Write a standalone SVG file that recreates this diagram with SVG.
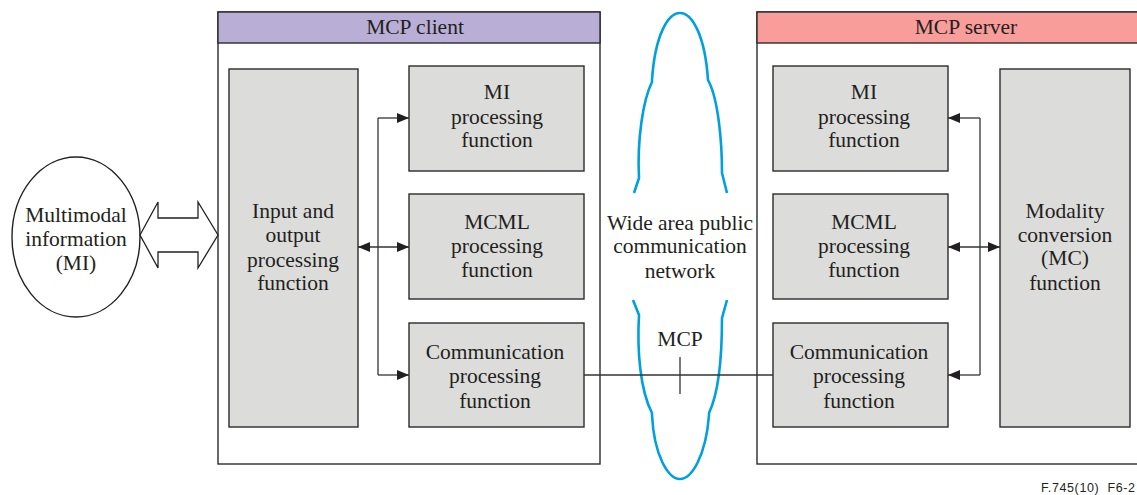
<svg xmlns="http://www.w3.org/2000/svg" width="1137" height="495" viewBox="0 0 1137 495">
<style>
.t{font-family:"Liberation Serif","Times New Roman",serif;font-size:21.5px;fill:#231f20;text-anchor:middle}
.box{fill:#dcdcdb;stroke:#2b2b2b;stroke-width:1.4}
.frame{fill:#fff;stroke:#2b2b2b;stroke-width:1.4}
.ln{fill:none;stroke:#333;stroke-width:1.3}
.cloud{fill:none;stroke:#00a0dc;stroke-width:2.6;stroke-linejoin:round}
</style>
<defs>
<marker id="ah" viewBox="0 0 12 10" refX="12" refY="5" markerWidth="12" markerHeight="10" markerUnits="userSpaceOnUse" orient="auto-start-reverse">
<path d="M0,0 L12,5 L0,10 z" fill="#231f20"/>
</marker>
</defs>
<g id="client">
<rect class="frame" x="218" y="12" width="382" height="452"/>
<rect x="218" y="12" width="382" height="31" fill="#b9afd6" stroke="#2b2b2b" stroke-width="1.4"/>
<text class="t" x="415" y="34">MCP client</text>
</g>
<g id="server">
<rect class="frame" x="757" y="12" width="400" height="452"/>
<rect x="757" y="12" width="400" height="31" fill="#f99d9b" stroke="#2b2b2b" stroke-width="1.4"/>
<text class="t" x="966" y="34">MCP server</text>
</g>
<g id="mi">
<ellipse cx="76" cy="237" rx="64" ry="80" fill="#fff" stroke="#231f20" stroke-width="1.4"/>
<text class="t" x="76" y="222">Multimodal</text>
<text class="t" x="76" y="246">information</text>
<text class="t" x="76" y="270">(MI)</text>
</g>
<g id="io">
<rect class="box" x="229" y="69" width="129" height="358"/>
<text class="t" x="293" y="218">Input and</text>
<text class="t" x="293" y="242">output</text>
<text class="t" x="293" y="267">processing</text>
<text class="t" x="293" y="290">function</text>
</g>
<g id="c-mi">
<rect class="box" x="409" y="66" width="175" height="105"/>
<text class="t" x="497" y="99">MI</text>
<text class="t" x="497" y="124">processing</text>
<text class="t" x="497" y="147">function</text>
</g>
<g id="c-mcml">
<rect class="box" x="409" y="194" width="175" height="105"/>
<text class="t" x="497" y="229">MCML</text>
<text class="t" x="497" y="253">processing</text>
<text class="t" x="497" y="277">function</text>
</g>
<g id="c-comm">
<rect class="box" x="409" y="323" width="175" height="104"/>
<text class="t" x="495" y="359">Communication</text>
<text class="t" x="495" y="383">processing</text>
<text class="t" x="495" y="408">function</text>
</g>
<g id="cloud">
<path class="cloud" d="M634,193 L639,178 C637,140 643,100 652,82 L652,80 C655,35 668,13 680,13 C692,13 705,35 708,80 L709,82 C718,100 722,140 722,173 L727,193"/>
<path class="cloud" d="M633,300 L639,315 C637,350 640,390 652,413 L652,415 C654,455 668,479 680,479 C692,479 706,455 709,415 L709,413 C720,390 722,350 722,318 L727,300"/>
<text class="t" x="680" y="230">Wide area public</text>
<text class="t" x="680" y="253">communication</text>
<text class="t" x="680" y="278">network</text>
<text class="t" x="680" y="346">MCP</text>
</g>
<g id="s-mi">
<rect class="box" x="773" y="66" width="175" height="105"/>
<text class="t" x="864" y="99">MI</text>
<text class="t" x="864" y="124">processing</text>
<text class="t" x="864" y="147">function</text>
</g>
<g id="s-mcml">
<rect class="box" x="773" y="194" width="175" height="105"/>
<text class="t" x="864" y="229">MCML</text>
<text class="t" x="864" y="253">processing</text>
<text class="t" x="864" y="277">function</text>
</g>
<g id="s-comm">
<rect class="box" x="773" y="323" width="175" height="104"/>
<text class="t" x="859" y="359">Communication</text>
<text class="t" x="859" y="383">processing</text>
<text class="t" x="859" y="408">function</text>
</g>
<g id="mc">
<rect class="box" x="1000" y="69" width="130" height="358"/>
<text class="t" x="1065" y="218">Modality</text>
<text class="t" x="1065" y="242">conversion</text>
<text class="t" x="1065" y="265">(MC)</text>
<text class="t" x="1065" y="290">function</text>
</g>
<g id="connectors">
<path d="M140,235 L158,202 L158,218 L198,218 L198,202 L218,235 L198,268 L198,252 L158,252 L158,268 Z" fill="#fff" stroke="#231f20" stroke-width="1.3"/>
<path class="ln" d="M378,118 L378,375"/>
<path class="ln" d="M378,118 L409,118" marker-end="url(#ah)"/>
<path class="ln" d="M358,247 L409,247" marker-start="url(#ah)" marker-end="url(#ah)"/>
<path class="ln" d="M378,375 L409,375" marker-end="url(#ah)"/>
<path class="ln" d="M980,118 L980,375"/>
<path class="ln" d="M980,118 L948,118" marker-end="url(#ah)"/>
<path class="ln" d="M948,247 L1000,247" marker-start="url(#ah)" marker-end="url(#ah)"/>
<path class="ln" d="M980,375 L948,375" marker-end="url(#ah)"/>
<path class="ln" d="M584,375 L773,375"/>
<path class="ln" d="M680,357 L680,394"/>
</g>
<text x="1041" y="492" font-family="Liberation Sans,Arial,sans-serif" font-size="12.5" fill="#231f20" textLength="94" lengthAdjust="spacing" xml:space="preserve">F.745(10)  F6-2</text>
</svg>
